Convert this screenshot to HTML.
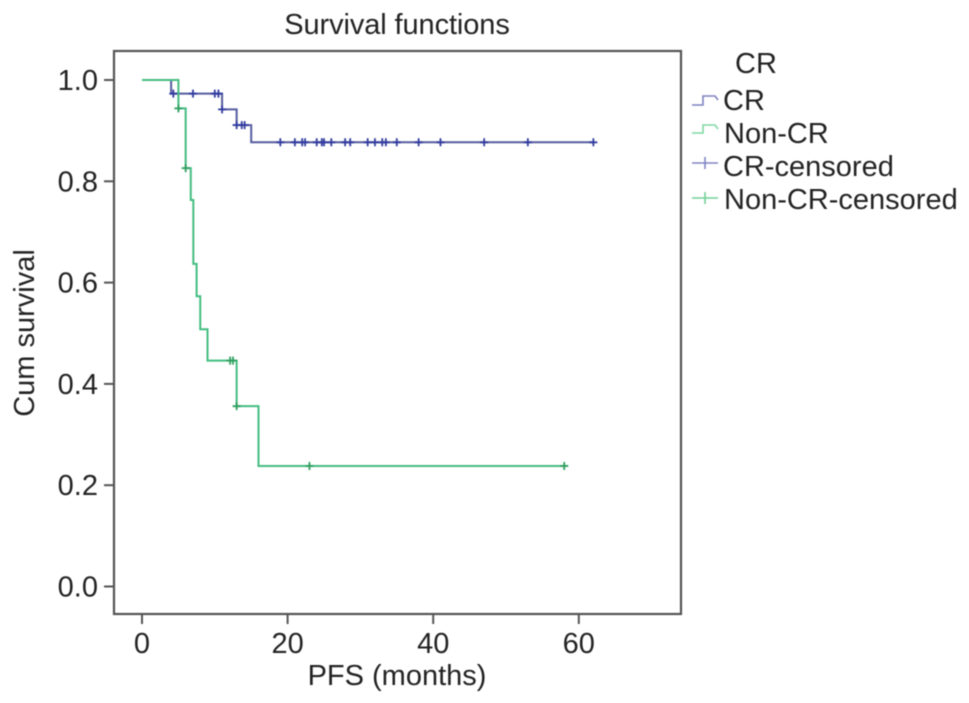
<!DOCTYPE html>
<html lang="en">
<head>
<meta charset="utf-8">
<title>Survival functions</title>
<style>
html,body{margin:0;padding:0;background:#fff;}
svg{display:block;filter:blur(0.5px);}
text{font-family:"Liberation Sans",sans-serif;fill:#232323;}
</style>
</head>
<body>
<svg id="chart" xmlns="http://www.w3.org/2000/svg" width="969" height="703" viewBox="0 0 969 703">
  <rect x="0" y="0" width="969" height="703" fill="#fff"/>
  <text x="397" y="34" font-size="29" text-anchor="middle" font-weight="400" style="letter-spacing:-.1px">Survival functions</text>
  <rect x="114" y="51" width="567" height="563" fill="none" stroke="#555" stroke-width="2.2"/>
  <g id="axes"></g>
  <g id="marks"></g>
  <text x="397" y="685" font-size="29" text-anchor="middle">PFS (months)</text>
  <text transform="translate(34 333) rotate(-90)" font-size="29" text-anchor="middle">Cum survival</text>

  <g>
    <text x="735" y="73" font-size="29">CR</text>
    <g id="legend-marks">
      <path d="M692 105H703V96H715L718 100" fill="none" stroke="#7f82c0" stroke-width="1.6"/>
      <path d="M692 133H703V125H715L718 129" fill="none" stroke="#7fd8a4" stroke-width="1.6"/>
      <path d="M692 163H718M705 157V169" fill="none" stroke="#8084c4" stroke-width="1.6"/>
      <path d="M692 198H718M705 192V204" fill="none" stroke="#72d096" stroke-width="1.6"/>
    </g>
    <text x="723" y="110" font-size="29">CR</text>
    <text x="724" y="143" font-size="29">Non-CR</text>
    <text x="723" y="176" font-size="29">CR-censored</text>
    <text x="724" y="209" font-size="29">Non-CR-censored</text>
  </g>
</svg>
<script>
const xTickValues = [0, 20, 40, 60];
const yTickValues = [0.0, 0.2, 0.4, 0.6, 0.8, 1.0];

const crEventTimes = [0, 4, 11, 13, 15];
const crSurvival = [1.0, 0.973, 0.942, 0.911, 0.877];
const crEndTime = 62;
const crCensoredTimes = [4.3, 7, 10, 10.5, 11, 13, 13.7, 14.1, 19, 21, 22, 22.4, 24, 24.7, 25, 26, 27.9, 28.6, 31, 32, 33, 33.5, 35, 38, 41, 47, 53, 62];

const nonCrEventTimes = [0, 5, 6, 6.7, 7.05, 7.5, 8, 9, 13, 16];
const nonCrSurvival = [1.0, 0.944, 0.826, 0.763, 0.637, 0.573, 0.508, 0.446, 0.356, 0.238];
const nonCrEndTime = 58;
const nonCrCensoredTimes = [5, 6, 12.1, 12.5, 13, 23, 58];

const NS = 'http://www.w3.org/2000/svg';
function xScale(t) { return 142 + t * 7.28; }
function yScale(s) { return 586.5 - s * 506.5; }

function survivalAt(times, values, t) {
  let result = values[0];
  for (let i = 0; i < times.length; i++) {
    if (times[i] <= t) result = values[i];
  }
  return result;
}
function stepPath(times, values, end) {
  let d = 'M' + xScale(times[0]) + ' ' + yScale(values[0]);
  for (let i = 1; i < times.length; i++) {
    d += 'H' + xScale(times[i]) + 'V' + yScale(values[i]);
  }
  return d + 'H' + xScale(end);
}

const axes = document.getElementById('axes');
const marks = document.getElementById('marks');

xTickValues.forEach(function (v) {
  const tick = document.createElementNS(NS, 'line');
  
  
  tick.setAttribute('x1', xScale(v));
  tick.setAttribute('x2', xScale(v));
  tick.setAttribute('y1', 614);
  tick.setAttribute('y2', 624);
  tick.setAttribute('stroke', '#555');
  tick.setAttribute('stroke-width', 2);
  axes.appendChild(tick);
  const label = document.createElementNS(NS, 'text');
  
  
  label.setAttribute('x', xScale(v));
  label.setAttribute('y', 653);
  label.setAttribute('font-size', 29);
  label.setAttribute('text-anchor', 'middle');
  label.textContent = String(v);
  axes.appendChild(label);
});

yTickValues.forEach(function (v) {
  const tick = document.createElementNS(NS, 'line');
  
  
  tick.setAttribute('x1', 104);
  tick.setAttribute('x2', 114);
  tick.setAttribute('y1', yScale(v));
  tick.setAttribute('y2', yScale(v));
  tick.setAttribute('stroke', '#555');
  tick.setAttribute('stroke-width', 2);
  axes.appendChild(tick);
  const label = document.createElementNS(NS, 'text');
  
  
  label.setAttribute('x', 98);
  label.setAttribute('y', yScale(v) + 10);
  label.setAttribute('font-size', 29);
  label.setAttribute('text-anchor', 'end');
  label.textContent = v.toFixed(1);
  axes.appendChild(label);
});

const crLine = document.createElementNS(NS, 'path');


crLine.setAttribute('d', stepPath(crEventTimes, crSurvival, crEndTime));
crLine.setAttribute('fill', 'none');
crLine.setAttribute('stroke', '#555c9e');
crLine.setAttribute('stroke-width', 2);
marks.appendChild(crLine);

const nonCrLine = document.createElementNS(NS, 'path');


nonCrLine.setAttribute('d', stepPath(nonCrEventTimes, nonCrSurvival, nonCrEndTime));
nonCrLine.setAttribute('fill', 'none');
nonCrLine.setAttribute('stroke', '#43bd80');
nonCrLine.setAttribute('stroke-width', 2);
marks.appendChild(nonCrLine);

nonCrCensoredTimes.forEach(function (t) {
  const s = survivalAt(nonCrEventTimes, nonCrSurvival, t);
  const mark = document.createElementNS(NS, 'path');
  
  
  mark.setAttribute('d', 'M' + (xScale(t) - 4) + ' ' + yScale(s) + 'h8M' + xScale(t) + ' ' + (yScale(s) - 4) + 'v8');
  mark.setAttribute('fill', 'none');
  mark.setAttribute('stroke', '#2f9f60');
  mark.setAttribute('stroke-width', 1.8);
  marks.appendChild(mark);
});

crCensoredTimes.forEach(function (t) {
  const s = survivalAt(crEventTimes, crSurvival, t);
  const mark = document.createElementNS(NS, 'path');
  
  
  mark.setAttribute('d', 'M' + (xScale(t) - 4) + ' ' + yScale(s) + 'h8M' + xScale(t) + ' ' + (yScale(s) - 4) + 'v8');
  mark.setAttribute('fill', 'none');
  mark.setAttribute('stroke', '#323c9e');
  mark.setAttribute('stroke-width', 1.8);
  marks.appendChild(mark);
});
</script>
</body>
</html>
